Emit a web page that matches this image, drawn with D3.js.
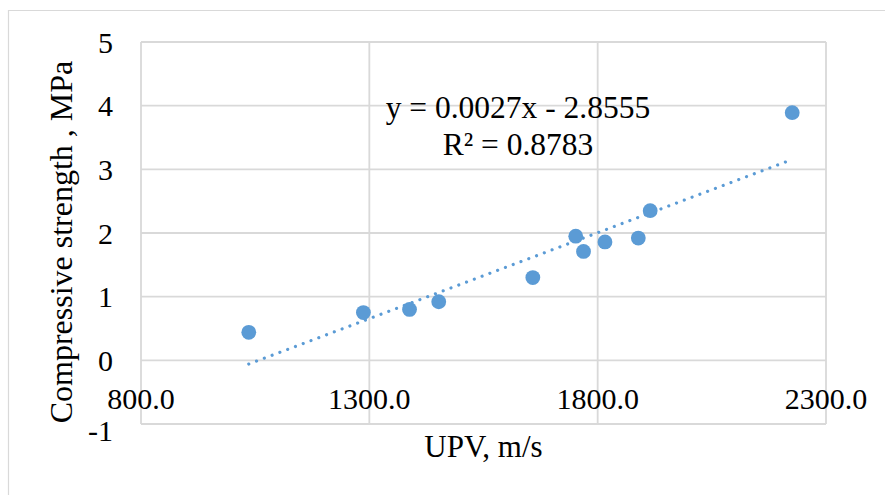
<!DOCTYPE html>
<html>
<head>
<meta charset="utf-8">
<script src="https://cdn.jsdelivr.net/npm/d3@7"></script>
<style>
  html, body { margin: 0; padding: 0; background: #fff; }
  svg { display: block; font-family: "Liberation Serif", "Times New Roman", serif; }
</style>
</head>
<body>
<svg id="chart" width="885" height="495"></svg>
<script>
// Ultrasonic pulse velocity (m/s) against compressive strength (MPa)
const upv      = [1036, 1287, 1388, 1452, 1658, 1752, 1769, 1816, 1889, 1915, 2226];
const strength = [0.44, 0.75, 0.80, 0.92, 1.30, 1.95, 1.71, 1.86, 1.92, 2.35, 3.89];

// Linear trendline as reported on the chart
const slope = 0.0027;
const intercept = -2.8555;
const r2 = 0.8783;

const xTicks = [800, 1300, 1800, 2300];
const yTicks = [-1, 0, 1, 2, 3, 4, 5];

const svg = d3.select("#chart");
const W = 885, H = 495;
const plot = { left: 141, right: 826, top: 42, bottom: 424 };

const x = d3.scaleLinear().domain([800, 2300]).range([plot.left, plot.right]);
const y = d3.scaleLinear().domain([-1, 5]).range([plot.bottom, plot.top]);

const grid = "#d9d9d9";
const blue = "#5b9bd5";

// outer chart frame
svg.append("path")
  .attr("d", `M8.5,${H + 2} V10.5 H${W + 2}`)
  .attr("fill", "none").attr("stroke", grid).attr("stroke-width", 1.2);

// horizontal gridlines
svg.append("g").selectAll("line").data(yTicks).join("line")
  .attr("x1", plot.left).attr("x2", plot.right)
  .attr("y1", d => y(d)).attr("y2", d => y(d))
  .attr("stroke", grid).attr("stroke-width", 1.8);

// vertical gridlines
svg.append("g").selectAll("line").data(xTicks).join("line")
  .attr("x1", d => x(d)).attr("x2", d => x(d))
  .attr("y1", plot.top).attr("y2", plot.bottom)
  .attr("stroke", grid).attr("stroke-width", 1.8);

// y tick labels
svg.append("g").selectAll("text").data(yTicks).join("text")
  .attr("x", 113).attr("y", d => y(d) + (d === -1 ? 6 : 0))
  .attr("text-anchor", "end").attr("dominant-baseline", "central")
  .attr("font-size", 30).attr("fill", "#000")
  .text(d => d3.format("d")(d).replace("−", "-"));

// x tick labels (axis crosses at y = 0)
svg.append("g").selectAll("text").data(xTicks).join("text")
  .attr("x", d => x(d)).attr("y", y(0) + 49)
  .attr("text-anchor", "middle")
  .attr("font-size", 30).attr("fill", "#000")
  .text(d => d3.format(".1f")(d));

// axis titles
svg.append("text")
  .attr("x", (plot.left + plot.right) / 2).attr("y", 457)
  .attr("text-anchor", "middle").attr("font-size", 31).attr("fill", "#000")
  .text("UPV, m/s");

svg.append("text")
  .attr("transform", `translate(72,242) rotate(-90)`)
  .attr("text-anchor", "middle").attr("font-size", 32).attr("fill", "#000")
  .text("Compressive strength , MPa");

// trendline over the data range
const xMin = d3.min(upv), xMax = d3.max(upv);
svg.append("line")
  .attr("x1", x(xMin)).attr("y1", y(slope * xMin + intercept))
  .attr("x2", x(xMax)).attr("y2", y(slope * xMax + intercept))
  .attr("stroke", blue).attr("stroke-width", 3.2)
  .attr("stroke-linecap", "round").attr("stroke-dasharray", "0.01 8.3");

// data points
svg.append("g").selectAll("circle").data(upv).join("circle")
  .attr("cx", (d) => x(d)).attr("cy", (d, i) => y(strength[i]))
  .attr("r", 7.4).attr("fill", blue);

// trendline equation
const eq = svg.append("text").attr("text-anchor", "middle")
  .attr("font-size", 31.5).attr("fill", "#000");
eq.append("tspan").attr("x", 518).attr("y", 118)
  .text(`y = ${slope}x - ${Math.abs(intercept)}`);
eq.append("tspan").attr("x", 518).attr("y", 155)
  .text(`R² = ${r2}`);
</script>
</body>
</html>
